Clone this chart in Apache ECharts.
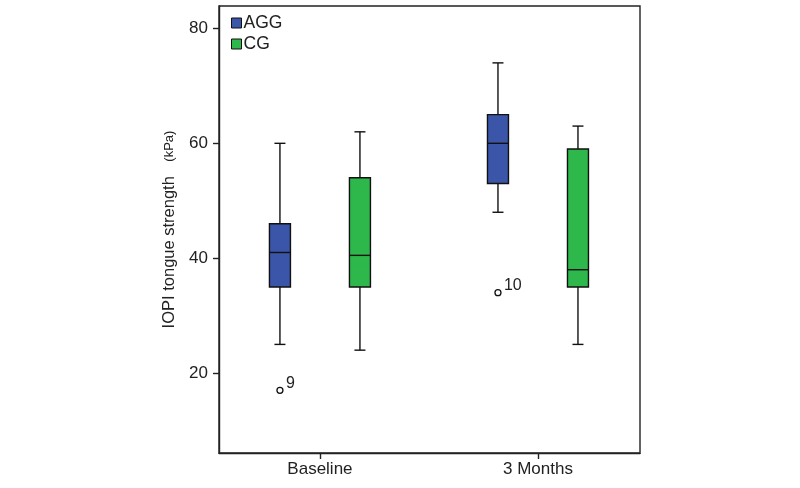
<!DOCTYPE html>
<html>
<head>
<meta charset="utf-8">
<script src="https://cdn.jsdelivr.net/npm/echarts@6/dist/echarts.min.js"></script>
<style>html,body{margin:0;padding:0;background:#fff}#c{width:800px;height:488px}</style>
</head>
<body>
<div id="c"></div>
<script>
var categories = ['Baseline', '3 Months'];
var groups = ['AGG', 'CG'];
// [min, Q1, median, Q3, max]
var aggBox = [[25, 35, 41, 46, 60], [48, 53, 60, 65, 74]];
var cgBox = [[24, 35, 40.5, 54, 62], [25, 35, 38, 59, 63]];
// [category index, value, case label]
var aggOutliers = [[0, 17, '9'], [1, 34, '10']];
var cgOutliers = [];
var yTicks = [20, 40, 60, 80];

var colors = { AGG: '#3B55A8', CG: '#2EB84C' };
var offsets = { AGG: -40, CG: 40 };
var boxHalf = 10.5, capHalf = 5.5;
var font = 'Liberation Sans, Arial, sans-serif';

function boxData(arr) {
  return arr.map(function (b, i) { return [i + 1].concat(b); });
}
function outData(arr) {
  return arr.map(function (o) { return [o[0] + 1, o[1], o[2]]; });
}

function makeBoxRender(name) {
  return function (params, api) {
    var x = api.value(0);
    var pMin = api.coord([x, api.value(1)]);
    var pQ1 = api.coord([x, api.value(2)]);
    var pMed = api.coord([x, api.value(3)]);
    var pQ3 = api.coord([x, api.value(4)]);
    var pMax = api.coord([x, api.value(5)]);
    var cx = pMin[0] + offsets[name];
    var ls = { stroke: '#111', lineWidth: 1.4 };
    return {
      type: 'group',
      children: [
        { type: 'line', shape: { x1: cx, y1: pMax[1], x2: cx, y2: pQ3[1] }, style: ls },
        { type: 'line', shape: { x1: cx, y1: pQ1[1], x2: cx, y2: pMin[1] }, style: ls },
        { type: 'line', shape: { x1: cx - capHalf, y1: pMax[1], x2: cx + capHalf, y2: pMax[1] }, style: ls },
        { type: 'line', shape: { x1: cx - capHalf, y1: pMin[1], x2: cx + capHalf, y2: pMin[1] }, style: ls },
        { type: 'rect', shape: { x: cx - boxHalf, y: pQ3[1], width: boxHalf * 2, height: pQ1[1] - pQ3[1] },
          style: { fill: colors[name], stroke: '#111', lineWidth: 1.4 } },
        { type: 'line', shape: { x1: cx - boxHalf, y1: pMed[1], x2: cx + boxHalf, y2: pMed[1] }, style: ls }
      ]
    };
  };
}

function makeOutRender(name) {
  return function (params, api) {
    var p = api.coord([api.value(0), api.value(1)]);
    var cx = p[0] + offsets[name];
    var label = (name === 'AGG' ? aggOutliers : cgOutliers)[params.dataIndex][2];
    return {
      type: 'group',
      children: [
        { type: 'circle', shape: { cx: cx, cy: p[1], r: 3 }, style: { fill: '#fff', stroke: '#111', lineWidth: 1.3 } },
        { type: 'text', style: { text: label, x: cx + 6, y: p[1] - 7, fill: '#222', font: '16px ' + font, verticalAlign: 'middle' } }
      ]
    };
  };
}

var chart = echarts.init(document.getElementById('c'));
chart.setOption({
  animation: false,
  backgroundColor: '#fff',
  textStyle: { fontFamily: font },
  grid: { left: 219, right: 160, top: 6, bottom: 35, show: true, borderColor: '#222', borderWidth: 1.4, backgroundColor: 'transparent' },
  legend: {
    orient: 'vertical', left: 226, top: 9, itemWidth: 10, itemHeight: 10, itemGap: 3,
    textStyle: { fontSize: 17.5, color: '#222', fontFamily: font, padding: [0, 0, 0, -3] },
    data: groups.map(function (g) { return { name: g, icon: 'rect', itemStyle: { color: colors[g], borderColor: '#111', borderWidth: 1 } }; })
  },
  xAxis: {
    type: 'value', min: 0.537, max: 2.468,
    splitLine: { show: false },
    axisLine: { show: true, lineStyle: { color: '#222', width: 1.4 } },
    axisTick: { show: true, length: 6, lineStyle: { color: '#222', width: 1.4 }, customValues: [1, 2] },
    axisLabel: { customValues: [1, 2], fontSize: 17, color: '#222', margin: 8, formatter: function (v) { return categories[Math.round(v) - 1] || ''; } }
  },
  yAxis: {
    type: 'value', min: 6.1, max: 83.9,
    splitLine: { show: false },
    axisLine: { show: true, lineStyle: { color: '#222', width: 1.4 } },
    axisTick: { show: true, length: 6, lineStyle: { color: '#222', width: 1.4 }, customValues: yTicks },
    axisLabel: { customValues: yTicks, fontSize: 17, color: '#222', margin: 11 },
    name: '{a|IOPI tongue strength}{b|    (kPa)}',
    nameLocation: 'middle', nameGap: 41,
    nameTextStyle: { rich: { a: { fontSize: 16.5, color: '#222', fontFamily: font }, b: { fontSize: 13, color: '#222', fontFamily: font } } }
  },
  series: [
    { name: 'AGG', type: 'custom', renderItem: makeBoxRender('AGG'), data: boxData(aggBox), itemStyle: { color: colors.AGG } },
    { name: 'CG', type: 'custom', renderItem: makeBoxRender('CG'), data: boxData(cgBox), itemStyle: { color: colors.CG } },
    { name: 'AGG', type: 'custom', renderItem: makeOutRender('AGG'), data: outData(aggOutliers), itemStyle: { color: colors.AGG } },
    { name: 'CG', type: 'custom', renderItem: makeOutRender('CG'), data: outData(cgOutliers), itemStyle: { color: colors.CG } }
  ]
});
</script>
</body>
</html>
